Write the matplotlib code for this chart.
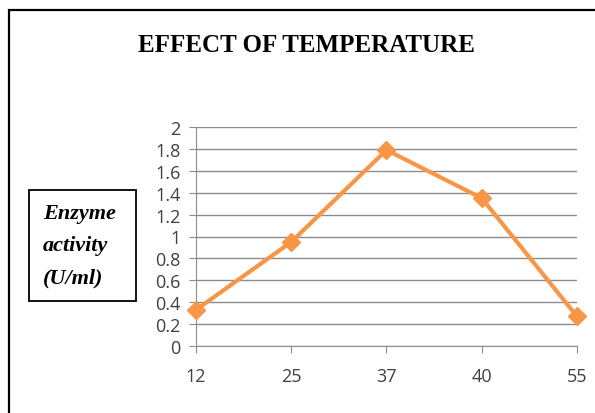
import matplotlib
matplotlib.use("Agg")
import matplotlib.pyplot as plt
from matplotlib.patches import Rectangle

temperatures = ["12", "25", "37", "40", "55"]
activity = [0.33, 0.95, 1.79, 1.35, 0.27]
y_ticks = [0, 0.2, 0.4, 0.6, 0.8, 1, 1.2, 1.4, 1.6, 1.8, 2]
y_tick_labels = ["0", "0.2", "0.4", "0.6", "0.8", "1", "1.2", "1.4", "1.6", "1.8", "2"]
title = "EFFECT OF TEMPERATURE"
ylabel = "Enzyme\nactivity\n(U/ml)"

W, H = 595, 414
fig = plt.figure(figsize=(W / 100, H / 100), dpi=100)
fig.patch.set_facecolor("white")

# outer border (only left and top edges visible in reference)
fig.add_artist(Rectangle((9 / W, -0.05), 1.2, 1 - 11 / H + 0.05, transform=fig.transFigure,
                         fill=False, edgecolor="black", linewidth=1.6))

ax = fig.add_axes([196 / W, 1 - 347 / H, (577 - 196) / W, (347 - 128) / H])
x = list(range(len(temperatures)))
ax.plot(x, activity, color="#F79646", linewidth=3, marker="D", markersize=9,
        markerfacecolor="#F79646", markeredgecolor="#F79646", clip_on=False, zorder=3)

ax.set_xlim(0, len(temperatures) - 1)
ax.set_ylim(0, 2)
ax.set_xticks(x)
ax.set_xticklabels(temperatures)
ax.set_yticks(y_ticks)
ax.set_yticklabels(y_tick_labels)
ax.yaxis.grid(True, color="#8c8c8c", linewidth=1)
ax.set_axisbelow(True)
for s in ["top", "right"]:
    ax.spines[s].set_visible(False)
for s in ["left", "bottom"]:
    ax.spines[s].set_color("#8c8c8c")
ax.tick_params(axis="both", colors="#8c8c8c", length=5, labelcolor="#404040",
               labelsize=13)
ax.tick_params(axis="y", pad=6)
ax.tick_params(axis="x", pad=10)
for lbl in ax.get_xticklabels() + ax.get_yticklabels():
    lbl.set_fontfamily("Open Sans")

fig.text(306 / W, 1 - 45 / H, title, ha="center", va="center",
         fontfamily="Liberation Serif", fontweight="bold", fontsize=18)

fig.add_artist(Rectangle((29 / W, 1 - 302 / H), (136 - 29) / W, (302 - 191) / H,
                         transform=fig.transFigure, fill=False, edgecolor="black", linewidth=1.3))
fig.text(43 / W, 1 - 246 / H, ylabel, ha="left", va="center", multialignment="left",
         linespacing=1.8, fontfamily="Liberation Serif", fontweight="bold",
         fontstyle="italic", fontsize=16)

fig.savefig("out.png", dpi=100)
